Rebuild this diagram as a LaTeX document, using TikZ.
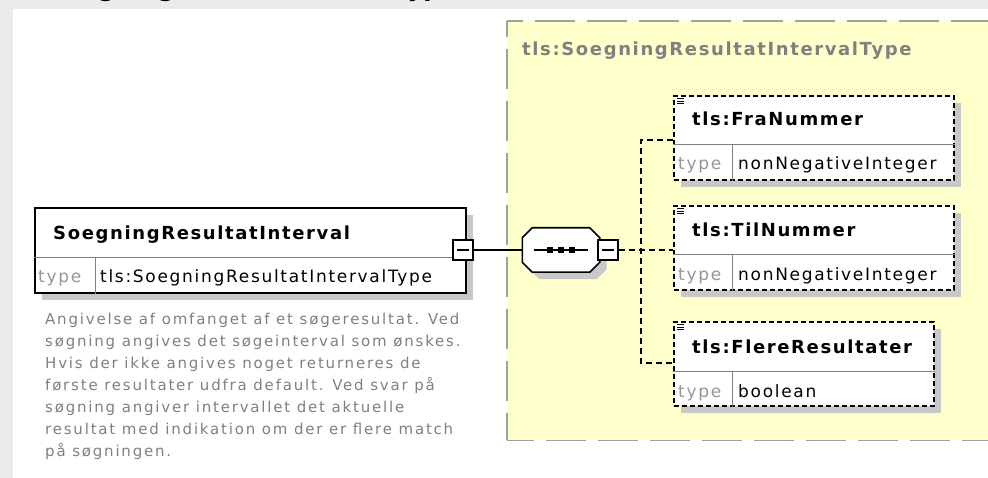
\documentclass[tikz,border=0pt]{standalone}
\usepackage{fontspec}
\setmainfont{DejaVu Sans}
\newfontfamily\namefont[LetterSpace=9]{DejaVu Sans}
\newfontfamily\typefont[LetterSpace=10]{DejaVu Sans}
\newfontfamily\notefont[LetterSpace=12]{DejaVu Sans}
\usetikzlibrary{shadows}

\definecolor{pagegray}{RGB}{235,235,235}
\definecolor{ctypefill}{RGB}{255,255,204}
\definecolor{ctypeedge}{RGB}{160,160,160}
\definecolor{shadowgray}{RGB}{200,200,200}
\definecolor{notegray}{RGB}{128,128,128}
\definecolor{typegray}{RGB}{150,150,150}

\tikzset{
  shade7/.style={drop shadow={shadow xshift=7pt, shadow yshift=-7pt, fill=shadowgray, opacity=1}},
  elbox/.style={draw, line width=1.6pt, fill=white, inner sep=0pt, anchor=north west, shade7},
  optbox/.style={elbox, dash pattern=on 5pt off 3pt},
  rowline/.style={draw=gray, line width=1pt},
  minusbox/.style={draw, fill=white, line width=1.4pt, minimum size=20pt, inner sep=0pt,
    path picture={\draw[line width=1.4pt] ([xshift=4pt]path picture bounding box.west) -- ([xshift=-4pt]path picture bounding box.east);}},
  seqslot/.style={inner sep=0pt, minimum width=77pt, minimum height=44pt},
  seqline/.style={draw, fill=white, line width=1.6pt, shade7},
  link/.style={line width=1.5pt},
  branch/.style={line width=1.4pt, dash pattern=on 6pt off 4pt},
  frameedge/.style={draw=ctypeedge, line width=1.8pt, dash pattern=on 40pt off 12pt},
  namelbl/.style={anchor=base west, inner sep=0pt, font=\namefont\bfseries\fontsize{18pt}{20pt}\selectfont},
  typelbl/.style={anchor=base west, inner sep=0pt, font=\typefont\fontsize{17pt}{20pt}\selectfont},
  icon/.style={line width=1pt},
}

\begin{document}
\begin{tikzpicture}[x=1pt,y=-1pt]
    \useasboundingbox (0,0) rectangle (988,478);
    \fill[pagegray] (0,0) rectangle (988,478);
    \node[anchor=base west, inner sep=0pt, font=\bfseries\fontsize{24pt}{24pt}\selectfont] (pagetitle) at (48,-3) {SoegningResultatIntervalType};
    \fill[white] (13,9) rectangle (988,478);

    % complex type frame
    \node[fill=ctypefill, inner sep=0pt, anchor=north west, minimum width=500pt, minimum height=419pt] (ctype) at (507,21) {};
    \draw[frameedge, dash phase=24pt] (ctype.north west) -- (ctype.north east);
    \draw[frameedge, dash phase=13pt] (ctype.south west) -- (ctype.south east);
    \draw[frameedge, dash phase=24pt] (ctype.north west) -- (ctype.south west);
    \node[namelbl, text=notegray] (ctypename) at (522,56) {tls:SoegningResultatIntervalType};

    % element
    \node[elbox, minimum width=431pt, minimum height=85pt] (elem) at (34,207) {};
    \draw[rowline] ([yshift=-51pt]elem.north west) -- ([yshift=-51pt]elem.north east);
    \draw[rowline] ([shift={(61pt,-51pt)}]elem.north west) -- ([xshift=61pt]elem.south west);
    \node[namelbl] (elemname) at (53,240) {SoegningResultatInterval};
    \node[typelbl, text=typegray] (elemkey) at (38,283) {type};
    \node[typelbl] (elemtype) at (100,283) {tls:SoegningResultatIntervalType};
    \node[minusbox] (elemsq) at (463,250) {};
    \node[anchor=north west, inner sep=0pt, align=left, text=notegray, font=\notefont\fontsize{15pt}{22pt}\selectfont] (elemnote) at (45,313)
        {Angivelse af omfanget af et søgeresultat. Ved\\
         søgning angives det søgeinterval som ønskes.\\
         Hvis der ikke angives noget returneres de\\
         første resultater udfra default. Ved svar på\\
         søgning angiver intervallet det aktuelle\\
         resultat med indikation om der er flere match\\
         på søgningen.};

    % sequence
    \node[seqslot] (seq) at (561,250) {};
    \draw[seqline] ([xshift=10pt]seq.north west) -- ([xshift=-10pt]seq.north east)
        -- ([yshift=-10pt]seq.north east) -- ([yshift=10pt]seq.south east)
        -- ([xshift=-10pt]seq.south east) -- ([xshift=10pt]seq.south west)
        -- ([yshift=10pt]seq.south west) -- ([yshift=-10pt]seq.north west) -- cycle;
    \draw[link] ([xshift=-27pt]seq.center) -- ([xshift=27pt]seq.center);
    \fill ([xshift=-11pt]seq.center) +(-3,-3) rectangle +(3,3);
    \fill (seq.center) +(-3,-3) rectangle +(3,3);
    \fill ([xshift=11pt]seq.center) +(-3,-3) rectangle +(3,3);
    \node[minusbox] (seqsq) at (608,250) {};
    \draw[link] (elemsq.east) -- (seq.west);

    % children
    \node[optbox, minimum width=280pt, minimum height=84pt] (fra) at (673,95) {};
    \draw[rowline] ([yshift=-50pt]fra.north west) -- ([yshift=-50pt]fra.north east);
    \draw[rowline] ([shift={(59pt,-50pt)}]fra.north west) -- ([xshift=59pt]fra.south west);
    \node[namelbl] (franame) at (692,126) {tls:FraNummer};
    \node[typelbl, text=typegray] (frakey) at (678,170) {type};
    \node[typelbl] (fratype) at (738,170) {nonNegativeInteger};

    \node[optbox, minimum width=280pt, minimum height=84pt] (til) at (673,205) {};
    \draw[rowline] ([yshift=-50pt]til.north west) -- ([yshift=-50pt]til.north east);
    \draw[rowline] ([shift={(59pt,-50pt)}]til.north west) -- ([xshift=59pt]til.south west);
    \node[namelbl] (tilname) at (692,237) {tls:TilNummer};
    \node[typelbl, text=typegray] (tilkey) at (678,281) {type};
    \node[typelbl] (tiltype) at (738,281) {nonNegativeInteger};

    \node[optbox, minimum width=260pt, minimum height=84pt] (flere) at (673,321) {};
    \draw[rowline] ([yshift=-50pt]flere.north west) -- ([yshift=-50pt]flere.north east);
    \draw[rowline] ([shift={(59pt,-50pt)}]flere.north west) -- ([xshift=59pt]flere.south west);
    \node[namelbl] (flerename) at (692,353) {tls:FlereResultater};
    \node[typelbl, text=typegray] (flerekey) at (678,397) {type};
    \node[typelbl] (fleretype) at (738,397) {boolean};

    \foreach \kid in {fra,til,flere}
        \foreach \dy in {4,6.5,9}
            \draw[icon] ([shift={(4pt,-\dy pt)}]\kid.north west) -- +(7,0);

    % connectors
    \coordinate (fork) at (641,250);
    \coordinate (frain) at (673,140);
    \coordinate (tilin) at (673,250);
    \coordinate (flerein) at (673,363);
    \draw[branch] (seqsq.east) -- (tilin);
    \draw[branch] (frain) -| (fork) |- (flerein);
\end{tikzpicture}
\end{document}
